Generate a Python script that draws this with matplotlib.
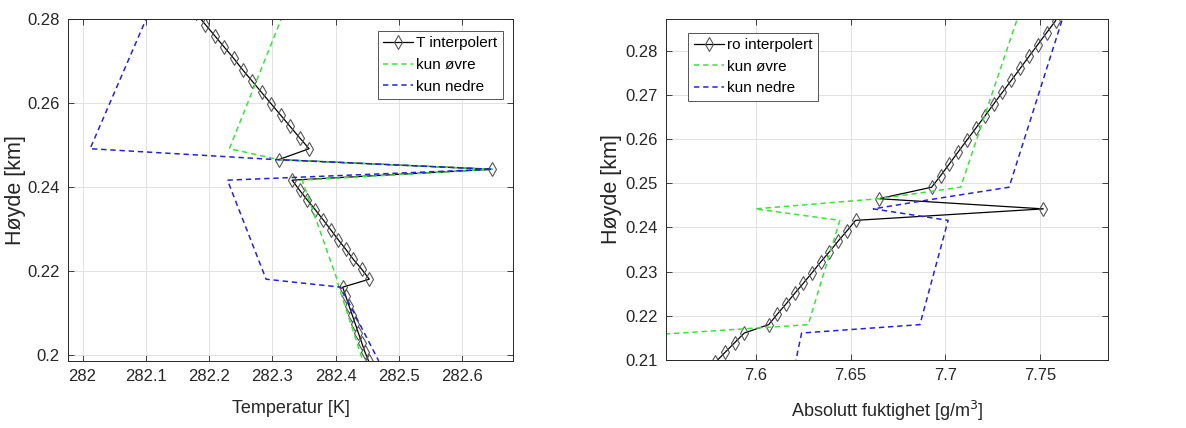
import matplotlib
matplotlib.use("Agg")
import matplotlib.pyplot as plt

plt.rcParams["font.family"] = ["Liberation Sans", "DejaVu Sans"]

# felles høydenivåer for interpolert profil [km]
hoyde = [0.2868, 0.2841, 0.2814, 0.2787, 0.2760, 0.2733, 0.2706, 0.2679, 0.2652, 0.2625,
         0.2598, 0.2571, 0.2544, 0.2517, 0.2491,
         0.2465, 0.2442,
         0.2416, 0.2392, 0.2369, 0.2345, 0.2322, 0.2298, 0.2274, 0.2251, 0.2227, 0.2204, 0.2180,
         0.2161, 0.2139, 0.2117, 0.2095, 0.2073, 0.2051, 0.2029, 0.2007, 0.1985]

# temperatur [K]
T_interp = [282.149, 282.164, 282.179, 282.194, 282.209, 282.224, 282.239, 282.253, 282.268, 282.283,
            282.298, 282.313, 282.328, 282.343, 282.358,
            282.310, 282.647,
            282.331, 282.343, 282.355, 282.368, 282.380, 282.392, 282.404, 282.416, 282.428, 282.441, 282.453,
            282.411, 282.416, 282.421, 282.426, 282.431, 282.436, 282.441, 282.446, 282.452]

T_ovre_h = [0.2868, 0.2491, 0.2465, 0.2442, 0.2416, 0.2180, 0.2161, 0.1985]
T_ovre = [282.332, 282.232, 282.310, 282.647, 282.347, 282.402, 282.405, 282.443]

T_nedre_h = [0.2868, 0.2491, 0.2465, 0.2442, 0.2416, 0.2180, 0.2161, 0.1985]
T_nedre = [282.120, 282.012, 282.306, 282.647, 282.229, 282.290, 282.408, 282.468]

# absolutt fuktighet [g/m^3]
ro_interp = [7.7583, 7.7536, 7.7489, 7.7442, 7.7396, 7.7349, 7.7302, 7.7255, 7.7209, 7.7162,
             7.7115, 7.7068, 7.7022, 7.6975, 7.6928,
             7.6650, 7.7518,
             7.6526, 7.6480, 7.6434, 7.6388, 7.6342, 7.6297, 7.6251, 7.6205, 7.6159, 7.6113, 7.6067,
             7.5938, 7.5887, 7.5836, 7.5786, 7.5735, 7.5684, 7.5633, 7.5582, 7.5532]

ro_ovre_h = [0.2868, 0.2491, 0.2465, 0.2442, 0.2416, 0.2180, 0.2156, 0.2050]
ro_ovre = [7.7377, 7.7081, 7.6650, 7.5996, 7.6443, 7.6276, 7.5420, 7.5300]

ro_nedre_h = [0.2868, 0.2491, 0.2465, 0.2442, 0.2416, 0.2180, 0.2161, 0.2050]
ro_nedre = [7.7616, 7.7337, 7.6950, 7.6620, 7.7015, 7.6866, 7.6241, 7.6187]

T_ticks = [282, 282.1, 282.2, 282.3, 282.4, 282.5, 282.6]
T_ticklabels = ["282", "282.1", "282.2", "282.3", "282.4", "282.5", "282.6"]
h1_ticks = [0.20, 0.22, 0.24, 0.26, 0.28]
h1_ticklabels = ["0.2", "0.22", "0.24", "0.26", "0.28"]
ro_ticks = [7.60, 7.65, 7.70, 7.75]
ro_ticklabels = ["7.6", "7.65", "7.7", "7.75"]
h2_ticks = [0.21, 0.22, 0.23, 0.24, 0.25, 0.26, 0.27, 0.28]
h2_ticklabels = ["0.21", "0.22", "0.23", "0.24", "0.25", "0.26", "0.27", "0.28"]

GREEN = "#3fe03f"
BLUE = "#2424d6"
AXC = "#262626"

fig = plt.figure(figsize=(11.86, 4.28), dpi=100)
ax1 = fig.add_axes([0.0573, 0.1565, 0.3752, 0.799])
ax2 = fig.add_axes([0.5616, 0.1589, 0.3727, 0.797])


def draw(ax, x_i, x_o, h_o, x_n, h_n, lab):
    ax.plot(x_i, hoyde, "-", color="black", lw=0.9, marker="d", ms=7,
            mfc="none", mec="#555555", mew=0.8, label=lab)
    ax.plot(x_o, h_o, "--", color=GREEN, lw=1.1, dashes=(3.5, 2.5), label="kun øvre")
    ax.plot(x_n, h_n, "--", color=BLUE, lw=1.1, dashes=(3.5, 2.5), label="kun nedre")


def style(ax, xt, xtl, yt, ytl):
    ax.set_xticks(xt)
    ax.set_xticklabels(xtl)
    ax.set_yticks(yt)
    ax.set_yticklabels(ytl)
    ax.grid(True, color="#e2e2e2", lw=0.7)
    ax.set_axisbelow(True)
    ax.tick_params(direction="in", length=4, width=0.6, top=True, right=True,
                   labelsize=12, colors=AXC, pad=6)
    for s in ax.spines.values():
        s.set_color(AXC)
        s.set_linewidth(0.7)


def legend(ax, loc, anchor):
    leg = ax.legend(loc=loc, bbox_to_anchor=anchor, borderaxespad=0,
                    fontsize=11, numpoints=1, handlelength=2.0, handletextpad=0.2,
                    labelspacing=0.5, borderpad=0.35, fancybox=False, framealpha=1,
                    edgecolor="#555555")
    leg.get_frame().set_linewidth(0.7)


draw(ax1, T_interp, T_ovre, T_ovre_h, T_nedre, T_nedre_h, "T interpolert")
ax1.set_xlim(281.977, 282.68)
ax1.set_ylim(0.1985, 0.28)
style(ax1, T_ticks, T_ticklabels, h1_ticks, h1_ticklabels)
ax1.set_xlabel("Temperatur [K]", fontsize=13, color=AXC, labelpad=11)
ax1.set_ylabel("Høyde [km]", fontsize=15.5, color=AXC)
ax1.yaxis.set_label_coords(-0.094, 0.5)
legend(ax1, "upper right", (0.9775, 0.965))

draw(ax2, ro_interp, ro_ovre, ro_ovre_h, ro_nedre, ro_nedre_h, "ro interpolert")
ax2.set_xlim(7.5525, 7.786)
ax2.set_ylim(0.21, 0.2872)
style(ax2, ro_ticks, ro_ticklabels, h2_ticks, h2_ticklabels)
ax2.set_xlabel("Absolutt fuktighet [g/m$^3$]", fontsize=13, color=AXC, labelpad=11)
ax2.set_ylabel("Høyde [km]", fontsize=15.5, color=AXC)
ax2.yaxis.set_label_coords(-0.1, 0.5)
legend(ax2, "upper left", (0.05, 0.959))

fig.savefig("out.png", dpi=100)
